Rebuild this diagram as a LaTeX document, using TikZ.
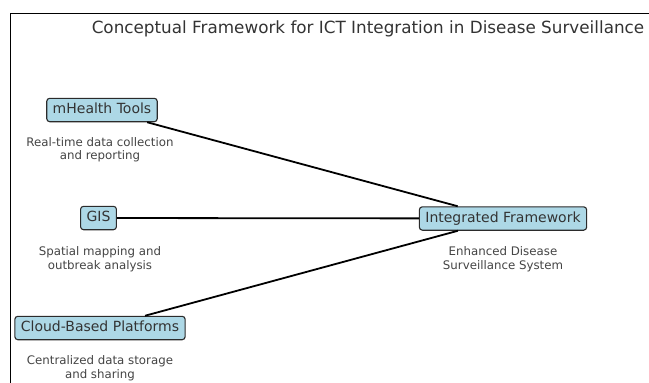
\documentclass[tikz,border=0pt]{standalone}
\usepackage{fontspec}
\setmainfont{DejaVu Sans}
\definecolor{boxfill}{HTML}{ADD8E6}
\definecolor{boxline}{HTML}{2B2B2B}
\definecolor{txt}{HTML}{333333}
\definecolor{desc}{HTML}{444444}
\begin{document}
\begin{tikzpicture}[x=1pt,y=-1pt,
  comp/.style={draw=boxline, fill=boxfill, line width=1.1pt, rounded corners=3pt,
    inner xsep=6pt, inner ysep=5pt, text height=10.4pt, text depth=3pt,
    font=\fontsize{14}{16}\selectfont, text=txt},
  note/.style={align=center, font=\fontsize{11.8}{13.5}\selectfont, text=desc},
  link/.style={line width=1.8pt, black}]
\useasboundingbox (0,0) rectangle (649,383);
\clip (0,0) rectangle (649,383);
\draw[line width=0.8pt] (10.5,13.5) rectangle (700,420);
\node[font=\fontsize{16.8}{19}\selectfont, text=txt] (title) at (368,29) {Conceptual Framework for ICT Integration in Disease Surveillance};
\node[comp] (mh) at (102,110) {mHealth Tools};
\node[comp] (gis) at (98.5,218) {GIS};
\node[comp] (cloud) at (100,328) {Cloud-Based Platforms};
\node[comp] (int) at (503,218.5) {Integrated Framework};
\node[note] (mhn) at (100,149.5) {Real-time data collection\\and reporting};
\node[note] (gisn) at (100,259) {Spatial mapping and\\outbreak analysis};
\node[note] (cloudn) at (100,368) {Centralized data storage\\and sharing};
\node[note] (intn) at (503,259) {Enhanced Disease\\Surveillance System};
\draw[link] (mh) -- (int);
\draw[link] (gis) -- (int);
\draw[link] (cloud) -- (int);
\end{tikzpicture}
\end{document}
